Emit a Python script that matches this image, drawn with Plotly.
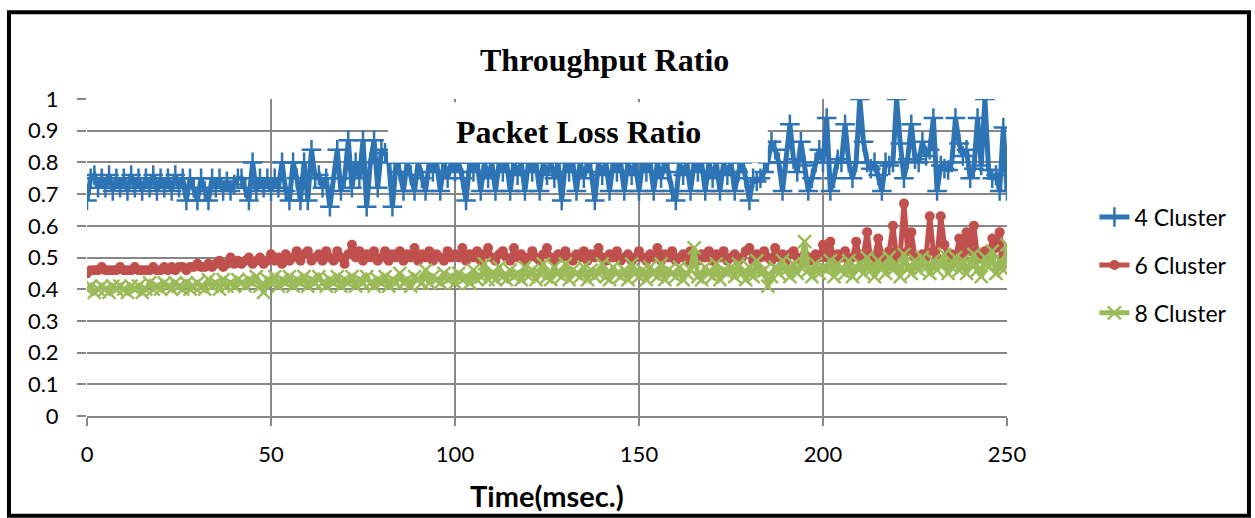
import plotly.graph_objects as go

# time axis (msec.)
time_ms = list(range(0, 251))

cluster4 = (
    [0.68]
    + [0.75, 0.76, 0.72, 0.75, 0.72, 0.76, 0.71, 0.75, 0.72, 0.75, 0.71, 0.76,
       0.72, 0.75, 0.71, 0.75, 0.72, 0.76, 0.71, 0.75, 0.72, 0.75, 0.71, 0.76]
    + [0.72, 0.75, 0.68, 0.75, 0.72, 0.68, 0.75, 0.71, 0.68, 0.75, 0.72, 0.75,
       0.71, 0.74, 0.71, 0.73, 0.75, 0.75, 0.72, 0.68, 0.80]
    + [0.71, 0.75, 0.72, 0.75, 0.71, 0.75, 0.72, 0.80, 0.71, 0.68, 0.80, 0.75,
       0.68, 0.80, 0.68]
    + [0.84, 0.75, 0.76, 0.72, 0.75, 0.66, 0.75, 0.84, 0.71, 0.75, 0.87, 0.72,
       0.80, 0.75, 0.87, 0.66, 0.80, 0.87, 0.72, 0.84, 0.83, 0.80]
    + [0.66, 0.80, 0.77, 0.71, 0.80, 0.76, 0.71, 0.80, 0.75, 0.71,
       0.80, 0.77, 0.80, 0.71, 0.80, 0.75, 0.80, 0.77, 0.80, 0.75,
       0.68, 0.80, 0.77, 0.80, 0.71, 0.80, 0.75, 0.80, 0.71, 0.80,
       0.77, 0.80, 0.71, 0.80, 0.76, 0.80, 0.71, 0.80, 0.77, 0.80,
       0.71, 0.80, 0.76, 0.80, 0.75, 0.80, 0.68, 0.80, 0.77, 0.80,
       0.71, 0.80, 0.75, 0.80, 0.77, 0.68, 0.80, 0.76, 0.80, 0.71,
       0.80, 0.77, 0.80, 0.71, 0.80, 0.76, 0.80, 0.71, 0.80, 0.77,
       0.80, 0.71, 0.80, 0.75, 0.80, 0.77, 0.71, 0.68, 0.80, 0.76,
       0.80, 0.71, 0.80, 0.77, 0.80, 0.71, 0.80, 0.75, 0.80, 0.71,
       0.80, 0.76, 0.80, 0.71, 0.77, 0.80, 0.75, 0.68, 0.75, 0.74]
    + [0.75, 0.77, 0.80, 0.865, 0.84, 0.80, 0.71, 0.80, 0.92, 0.81,
       0.77, 0.865, 0.79, 0.71, 0.75, 0.80, 0.84, 0.80, 0.94, 0.71,
       0.75, 0.81, 0.80, 0.92, 0.80, 0.75, 0.80, 1.00, 0.865, 0.80,
       0.78, 0.80, 0.76, 0.71, 0.80, 0.79, 0.80, 1.00, 0.86, 0.75,
       0.81, 0.92, 0.81, 0.80, 0.865, 0.82, 0.84, 0.94, 0.71, 0.79,
       0.78, 0.776, 0.80, 0.94, 0.86, 0.82, 0.84, 0.75, 0.78, 0.94,
       0.79, 1.00, 0.776, 0.75, 0.76, 0.71, 0.91, 0.71]
)

cluster6 = [
    0.45, 0.46, 0.46, 0.46, 0.47, 0.46, 0.46, 0.46, 0.46, 0.47,
    0.46, 0.46, 0.46, 0.47, 0.46, 0.46, 0.46, 0.46, 0.47, 0.46,
    0.46, 0.47, 0.46, 0.47, 0.46, 0.47, 0.47, 0.46, 0.47, 0.47,
    0.48, 0.47, 0.47, 0.48, 0.47, 0.48, 0.49, 0.47, 0.48, 0.50,
    0.48, 0.49, 0.48, 0.49, 0.50, 0.48, 0.49, 0.50, 0.48, 0.49,
    0.51, 0.49, 0.50, 0.48, 0.51, 0.49, 0.50, 0.52, 0.49, 0.51,
    0.52, 0.49, 0.50, 0.51, 0.49, 0.52, 0.50, 0.49, 0.52, 0.50,
    0.48, 0.51, 0.54, 0.50, 0.52, 0.49, 0.51, 0.50, 0.52, 0.49,
    0.50, 0.52, 0.49, 0.51, 0.50, 0.52, 0.49, 0.51, 0.50, 0.53,
    0.49, 0.51, 0.50, 0.52, 0.49, 0.51, 0.50, 0.49, 0.52, 0.50,
    0.51, 0.50, 0.53, 0.49, 0.51, 0.50, 0.52, 0.49, 0.51, 0.53,
    0.50, 0.49, 0.51, 0.52, 0.50, 0.49, 0.53, 0.50, 0.51, 0.49,
    0.50, 0.52, 0.50, 0.49, 0.51, 0.53, 0.50, 0.49, 0.51, 0.50,
    0.52, 0.50, 0.49, 0.51, 0.50, 0.52, 0.49, 0.51, 0.50, 0.53,
    0.50, 0.49, 0.51, 0.50, 0.52, 0.49, 0.50, 0.51, 0.49, 0.50,
    0.52, 0.50, 0.49, 0.51, 0.50, 0.53, 0.49, 0.51, 0.50, 0.52,
    0.49, 0.50, 0.51, 0.49, 0.52, 0.50, 0.49, 0.51, 0.50, 0.52,
    0.49, 0.51, 0.50, 0.52, 0.49, 0.50, 0.51, 0.49, 0.50, 0.52,
    0.53, 0.49, 0.51, 0.50, 0.52, 0.50, 0.49, 0.53, 0.50, 0.51,
    0.49, 0.51, 0.52, 0.50, 0.49, 0.51, 0.50, 0.49, 0.51, 0.50,
    0.54, 0.50, 0.55, 0.49, 0.51, 0.50, 0.52, 0.49, 0.50, 0.55,
    0.50, 0.51, 0.58, 0.49, 0.50, 0.56, 0.51, 0.49, 0.52, 0.60,
    0.50, 0.51, 0.67, 0.52, 0.58, 0.50, 0.49, 0.51, 0.50, 0.63,
    0.52, 0.50, 0.63, 0.54, 0.50, 0.51, 0.49, 0.56, 0.50, 0.58,
    0.52, 0.60, 0.50, 0.51, 0.52, 0.50, 0.56, 0.53, 0.58, 0.51,
    0.51,
]

cluster8 = [
    0.40, 0.41, 0.39, 0.40, 0.41, 0.40, 0.39, 0.41, 0.40, 0.41,
    0.40, 0.39, 0.41, 0.40, 0.41, 0.39, 0.40, 0.42, 0.40, 0.41,
    0.40, 0.42, 0.41, 0.40, 0.42, 0.41, 0.40, 0.42, 0.40, 0.41,
    0.42, 0.41, 0.40, 0.43, 0.41, 0.42, 0.40, 0.43, 0.41, 0.42,
    0.41, 0.43, 0.42, 0.41, 0.43, 0.42, 0.44, 0.41, 0.39, 0.43,
    0.42, 0.44, 0.41, 0.43, 0.42, 0.44, 0.41, 0.43, 0.42, 0.44,
    0.41, 0.43, 0.42, 0.44, 0.42, 0.41, 0.43, 0.42, 0.44, 0.41,
    0.43, 0.42, 0.44, 0.41, 0.43, 0.42, 0.44, 0.42, 0.41, 0.43,
    0.42, 0.44, 0.41, 0.43, 0.42, 0.45, 0.42, 0.43, 0.41, 0.44,
    0.43, 0.42, 0.46, 0.42, 0.44, 0.43, 0.42, 0.45, 0.43, 0.44,
    0.42, 0.45, 0.43, 0.44, 0.42, 0.46, 0.43, 0.44, 0.48, 0.43,
    0.45, 0.43, 0.47, 0.44, 0.43, 0.46, 0.44, 0.45, 0.43, 0.47,
    0.44, 0.46, 0.43, 0.45, 0.48, 0.44, 0.43, 0.47, 0.45, 0.44,
    0.48, 0.43, 0.46, 0.45, 0.44, 0.47, 0.43, 0.46, 0.44, 0.45,
    0.48, 0.44, 0.43, 0.47, 0.45, 0.44, 0.46, 0.43, 0.48, 0.45,
    0.44, 0.46, 0.43, 0.47, 0.45, 0.44, 0.48, 0.43, 0.46, 0.45,
    0.44, 0.47, 0.43, 0.45, 0.46, 0.53, 0.44, 0.43, 0.47, 0.45,
    0.44, 0.48, 0.43, 0.46, 0.45, 0.47, 0.44, 0.48, 0.45, 0.43,
    0.47, 0.44, 0.49, 0.45, 0.46, 0.41, 0.44, 0.47, 0.45, 0.49,
    0.46, 0.44, 0.48, 0.45, 0.47, 0.55, 0.46, 0.44, 0.48, 0.45,
    0.47, 0.46, 0.49, 0.44, 0.48, 0.46, 0.45, 0.49, 0.44, 0.47,
    0.48, 0.45, 0.50, 0.46, 0.44, 0.49, 0.47, 0.45, 0.50, 0.46,
    0.48, 0.44, 0.51, 0.47, 0.45, 0.49, 0.46, 0.50, 0.47, 0.45,
    0.49, 0.46, 0.48, 0.51, 0.45, 0.47, 0.50, 0.46, 0.49, 0.45,
    0.48, 0.51, 0.46, 0.44, 0.50, 0.47, 0.52, 0.45, 0.49, 0.46,
    0.54,
]

y_ticks = [0, 0.1, 0.2, 0.3, 0.4, 0.5, 0.6, 0.7, 0.8, 0.9, 1]
y_tick_text = ["0", "0.1", "0.2", "0.3", "0.4", "0.5", "0.6", "0.7", "0.8", "0.9", "1"]
x_ticks = [0, 50, 100, 150, 200, 250]

BLUE = "#2E74B5"
RED = "#C0504D"
GREEN = "#9BBB59"
GRID = "#878787"

fig = go.Figure()
fig.add_trace(go.Scatter(
    x=time_ms, y=cluster4, name="4 Cluster", mode="lines+markers",
    line=dict(color=BLUE, width=5),
    marker=dict(symbol="cross-thin", size=14, color=BLUE, line=dict(color=BLUE, width=2.5)),
    legendgroup="a",
))
fig.add_trace(go.Scatter(
    x=time_ms, y=cluster6, name="6 Cluster", mode="lines+markers",
    line=dict(color=RED, width=5),
    marker=dict(symbol="circle", size=10, color=RED),
    legendgroup="b",
))
fig.add_trace(go.Scatter(
    x=time_ms, y=cluster8, name="8 Cluster", mode="lines+markers",
    line=dict(color=GREEN, width=5),
    marker=dict(symbol="x-thin", size=13, color=GREEN, line=dict(color=GREEN, width=2.5)),
    legendgroup="c",
))

# white text box hiding part of the plot, as in the original
fig.add_shape(type="rect", xref="x", yref="y", x0=81.8, x1=185, y0=0.8, y1=0.99,
              fillcolor="white", line=dict(width=0), layer="above")
fig.add_annotation(text="<b>Packet Loss Ratio</b>", xref="paper", yref="paper",
                   x=0.534, y=0.896, xanchor="center", yanchor="middle", showarrow=False,
                   font=dict(family="Liberation Serif", size=32, color="black"))

# main title
fig.add_annotation(text="<b>Throughput Ratio</b>", xref="paper", yref="paper",
                   x=0.563, y=1.123, xanchor="center", yanchor="middle", showarrow=False,
                   font=dict(family="Liberation Serif", size=32, color="black"))

# x axis title
fig.add_annotation(text="<b>Time(msec.)</b>", xref="paper", yref="paper",
                   x=0.5, y=-0.252, xanchor="center", yanchor="middle", showarrow=False,
                   font=dict(family="Lato", size=29, color="black"))

# outer frame
fig.add_shape(type="rect", xref="paper", yref="paper",
              x0=-0.0848, x1=1.263, y0=-0.315, y1=1.274,
              line=dict(color="black", width=4), fillcolor="rgba(0,0,0,0)")

fig.update_layout(
    width=1255, height=518,
    margin=dict(l=87, r=248, t=99, b=102),
    paper_bgcolor="white", plot_bgcolor="white",
    font=dict(family="Lato", size=22, color="black"),
    showlegend=True,
    legend=dict(x=1.095, y=0.476, xanchor="left", yanchor="middle",
                font=dict(size=23), tracegroupgap=15, traceorder="grouped",
                bgcolor="rgba(0,0,0,0)"),
    xaxis=dict(range=[0, 250], tickvals=x_ticks, showgrid=True, gridcolor=GRID, gridwidth=2,
               ticks="outside", ticklen=8, tickcolor=GRID, tickwidth=2,
               showline=True, linecolor=GRID, linewidth=2, zeroline=False,
               ticklabelstandoff=10),
    yaxis=dict(range=[0, 1], tickvals=y_ticks, ticktext=y_tick_text, showgrid=True,
               gridcolor=GRID, gridwidth=2, ticks="outside", ticklen=9, tickcolor=GRID,
               tickwidth=2, zeroline=False, showline=False, ticklabelstandoff=14),
)

fig.write_html("out.html", config={"displayModeBar": False},
               post_script="document.body.style.margin='0';")
